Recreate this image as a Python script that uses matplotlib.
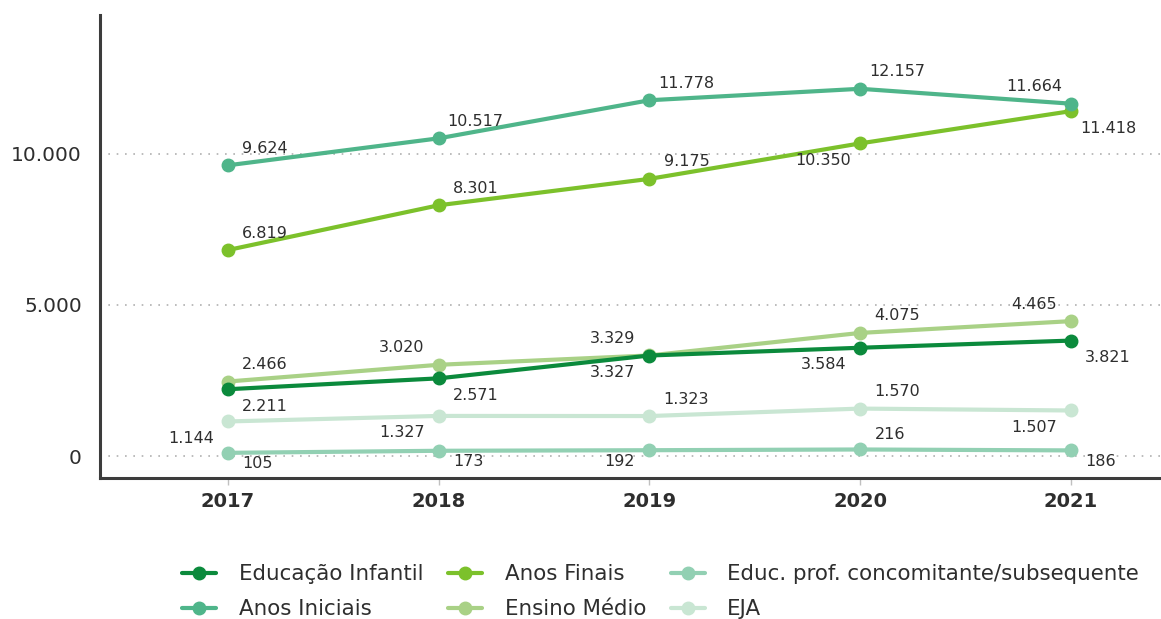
import numpy as np
import matplotlib
matplotlib.use('Agg')
import matplotlib.pyplot as plt

# Data
years = [2017, 2018, 2019, 2020, 2021]

series_names = ['Educação Infantil', 'Anos Iniciais', 'Anos Finais',
                'Ensino Médio', 'Educ. prof. concomitante/subsequente', 'EJA']

educ_infantil = [2211, 2571, 3327, 3584, 3821]
anos_iniciais = [9624, 10517, 11778, 12157, 11664]
anos_finais   = [6819, 8301, 9175, 10350, 11418]
ensino_medio  = [2466, 3020, 3329, 4075, 4465]
educ_prof     = [105, 173, 192, 216, 186]
eja           = [1144, 1327, 1323, 1570, 1507]

yticks = [0, 5000, 10000]
ytick_labels = ['0', '5.000', '10.000']

# Styling
colors = ['#0b8a3c', '#4fb58a', '#7cc12b', '#a9d186', '#92d0b3', '#c9e6d3']
# label placement per point: u/d = above/below, r/l = right/left
placements = [
    ['dr', 'dr', 'dl', 'dl', 'dr'],
    ['ur', 'ur', 'ur', 'ur', 'ul'],
    ['ur', 'ur', 'ur', 'dl', 'dr'],
    ['ur', 'ul', 'ul', 'ur', 'ul'],
    ['dr', 'dr', 'dl', 'ur', 'dr'],
    ['dl', 'dl', 'ur', 'ur', 'dl'],
]
TEXT = '#2e2e2e'

all_series = [educ_infantil, anos_iniciais, anos_finais, ensino_medio, educ_prof, eja]


def fmt(v):
    return f'{v:,}'.replace(',', '.')


fig = plt.figure(figsize=(11.61, 6.19), dpi=100)
ax = fig.add_axes([100/1161, 141/619, 1 - 100/1161, (478-15)/619])

# draw lighter series first so the darker ones sit on top
for idx in [5, 4, 3, 2, 1, 0]:
    vals = all_series[idx]
    ax.plot(years, vals, '-o', color=colors[idx], lw=3, ms=9,
            label=series_names[idx], zorder=3 + (5 - idx) * 0.1, solid_capstyle='round')

for idx, vals in enumerate(all_series):
    for x, v, p in zip(years, vals, placements[idx]):
        short = len(fmt(v)) <= 3
        dx = (30 if short else 37) * (1 if p[1] == 'r' else -1)
        dy = (-11 if short else -17) if p[0] == 'd' else 17
        if p == 'ur' and short:
            dy = 15
        ax.annotate(fmt(v), (x, v), xytext=(dx * 0.72, dy * 0.72), textcoords='offset points',
                    ha='center', va='center', fontsize=11.5, color=TEXT, zorder=10)

ax.set_xlim(2016.393, 2021.427)
ax.set_ylim(-728, 14600)
ax.set_xticks(years)
ax.set_xticklabels([str(y) for y in years], fontsize=14, fontweight='bold', color=TEXT)
ax.set_yticks(yticks)
ax.set_yticklabels(ytick_labels, fontsize=14.5, color=TEXT)
ax.tick_params(axis='y', length=0, pad=13)
ax.tick_params(axis='x', length=5, width=1, color='#c0c0c0', pad=5, direction='out')

for y in yticks:
    ax.axhline(y, color='#b0b0b0', lw=1.2, ls=(0, (1, 4)), zorder=1)

for s in ['top', 'right']:
    ax.spines[s].set_visible(False)
for s in ['left', 'bottom']:
    ax.spines[s].set_linewidth(2.2)
    ax.spines[s].set_color('#3c3c3c')

handles, labels = ax.get_legend_handles_labels()
order = [labels.index(n) for n in series_names]
leg = fig.legend([handles[i] for i in order], [labels[i] for i in order],
                 loc='center', bbox_to_anchor=(0.569, 0.044), ncol=3, frameon=False,
                 fontsize=15.4, handlelength=1.6, columnspacing=1.15, labelspacing=0.68,
                 handletextpad=1.05)
for t in leg.get_texts():
    t.set_color(TEXT)

fig.savefig('out.png', dpi=100)
